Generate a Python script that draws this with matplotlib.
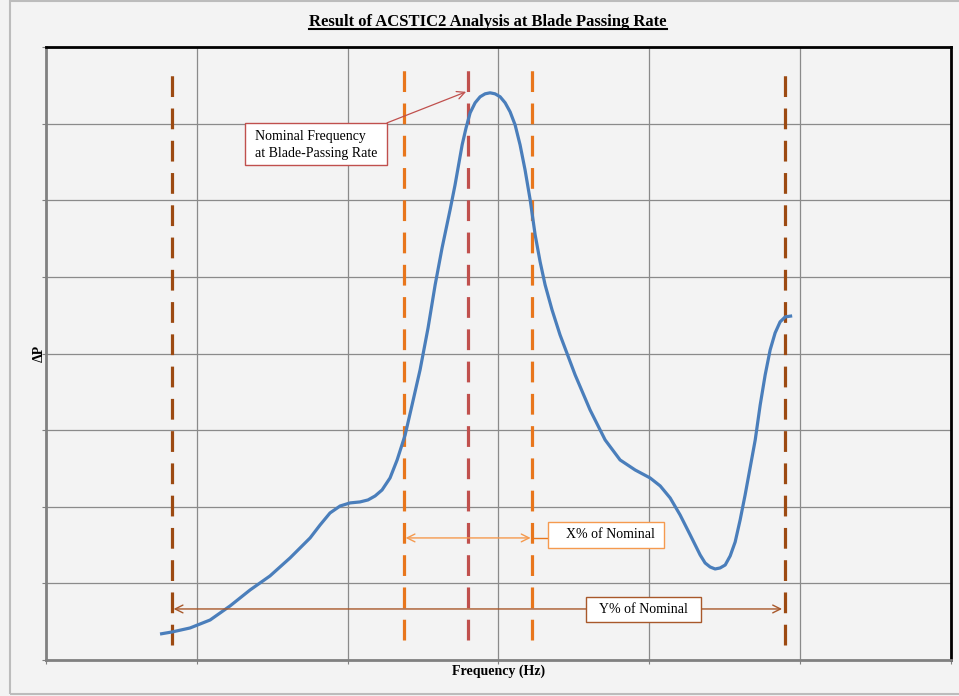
import matplotlib.pyplot as plt
from matplotlib.patches import Rectangle
from matplotlib.lines import Line2D

plt.rcParams['font.family'] = ['Liberation Serif', 'DejaVu Serif']

# measured curve (grid units: 6 columns x 8 rows)
freq = [0.756, 0.836, 0.955, 1.088, 1.220, 1.353, 1.485, 1.618, 1.751, 1.817,
        1.883, 1.950, 2.016, 2.082, 2.135, 2.182, 2.228, 2.281, 2.328, 2.381,
        2.427, 2.480, 2.533, 2.580, 2.626, 2.679, 2.712, 2.759, 2.785, 2.812,
        2.845, 2.878, 2.911, 2.944, 2.977, 3.011, 3.044, 3.077, 3.110, 3.143,
        3.176, 3.210, 3.243, 3.276, 3.309, 3.355, 3.408, 3.508, 3.607, 3.707,
        3.806, 3.906, 4.005, 4.072, 4.138, 4.204, 4.271, 4.337, 4.370, 4.403,
        4.436, 4.469, 4.503, 4.536, 4.569, 4.602, 4.635, 4.668, 4.702, 4.735,
        4.768, 4.801, 4.834, 4.867, 4.901, 4.947]
dp = [0.339, 0.366, 0.418, 0.522, 0.705, 0.914, 1.097, 1.332, 1.593, 1.762,
      1.919, 2.010, 2.050, 2.063, 2.089, 2.141, 2.219, 2.376, 2.611, 2.937,
      3.329, 3.786, 4.334, 4.896, 5.379, 5.875, 6.201, 6.723, 6.945, 7.141,
      7.272, 7.350, 7.389, 7.402, 7.389, 7.350, 7.272, 7.154, 6.984, 6.723,
      6.397, 6.005, 5.548, 5.196, 4.896, 4.569, 4.243, 3.721, 3.264, 2.872,
      2.611, 2.480, 2.376, 2.272, 2.115, 1.893, 1.632, 1.371, 1.266, 1.214,
      1.188, 1.201, 1.240, 1.358, 1.540, 1.828, 2.154, 2.507, 2.872, 3.329,
      3.721, 4.047, 4.269, 4.413, 4.478, 4.491]

nominal = 2.798
x_band = [2.374, 3.223]
y_band = [0.836, 4.900]

brown = '#9c4a12'
orange = '#e8761c'
light_orange = '#f59a4f'
red = '#c0504d'
rust = '#a8582a'

fig = plt.figure(figsize=(9.59, 6.96), dpi=100, facecolor='#f3f3f3')
fig.patches.append(Rectangle((10 / 959, 2 / 696), 1.0, 693 / 696, transform=fig.transFigure,
                             fill=False, edgecolor='#bcbcbc', linewidth=1.5))
ax = fig.add_axes([46 / 959, 36 / 696, 905 / 959, 613 / 696])
ax.set_facecolor('#f3f3f3')
ax.set_xlim(0, 6)
ax.set_ylim(0, 8)
ax.set_xticks(range(7))
ax.set_yticks(range(9))
ax.set_xticklabels([])
ax.set_yticklabels([])
ax.tick_params(length=3, color='#808080', direction='out')
ax.grid(True, color='#8a8a8a', linewidth=0.9)
ax.set_axisbelow(True)
for s in ['left', 'bottom']:
    ax.spines[s].set_color('#808080')
    ax.spines[s].set_linewidth(2)
for s in ['top', 'right']:
    ax.spines[s].set_color('black')
    ax.spines[s].set_linewidth(2)

dash = dict(linewidth=2.3, dashes=(6.5, 3.6), dash_capstyle='butt')
ax.plot([y_band[0]] * 2, [0.196, 7.73], color=brown, **dash)
ax.plot([y_band[1]] * 2, [0.196, 7.68], color=brown, **dash)
ax.plot([x_band[0]] * 2, [0.26, 7.73], color=orange, **dash)
ax.plot([x_band[1]] * 2, [0.26, 7.73], color=orange, **dash)
ax.plot([nominal] * 2, [0.26, 7.74], color=red, **dash)

ax.plot(freq, dp, color='#4a7ebb', linewidth=2.3, solid_capstyle='butt', solid_joinstyle='round')

# nominal frequency callout
ax.annotate('', xy=(2.785, 7.415), xytext=(2.261, 7.010),
            arrowprops=dict(arrowstyle='->', color=red, lw=0.9, mutation_scale=14,
                            shrinkA=0, shrinkB=0))
ax.add_patch(Rectangle((1.320, 6.462), 0.941, 0.548, facecolor='white', edgecolor=red,
                       linewidth=1, zorder=5))
ax.text(1.386, 6.72, 'Nominal Frequency\nat Blade-Passing Rate', fontsize=10, ha='left',
        va='center', linespacing=1.4, zorder=6)

# X% band
ax.annotate('', xy=(x_band[0] + 0.01, 1.593), xytext=(x_band[1] - 0.01, 1.593),
            arrowprops=dict(arrowstyle='<->', color=light_orange, lw=1.0, mutation_scale=14,
                            shrinkA=0, shrinkB=0))
ax.plot([x_band[1], 3.329], [1.593, 1.593], color=orange, linewidth=1)
ax.add_patch(Rectangle((3.329, 1.462), 0.769, 0.340, facecolor='white', edgecolor=light_orange,
                       linewidth=1, zorder=5))
ax.text(3.745, 1.632, 'X% of Nominal', fontsize=10, ha='center', va='center', zorder=6)

# Y% band
ax.annotate('', xy=(y_band[0] + 0.01, 0.666), xytext=(y_band[1] - 0.02, 0.666),
            arrowprops=dict(arrowstyle='<->', color=rust, lw=1.0, mutation_scale=14,
                            shrinkA=0, shrinkB=0))
ax.add_patch(Rectangle((3.581, 0.496), 0.763, 0.326, facecolor='white', edgecolor=rust,
                       linewidth=1, zorder=5))
ax.text(3.962, 0.660, 'Y% of Nominal', fontsize=10, ha='center', va='center', zorder=6)

ax.set_xlabel('Frequency (Hz)', fontsize=10, fontweight='bold', va='center')
ax.set_ylabel('ΔP', fontsize=10, fontweight='bold', va='center')
ax.xaxis.set_label_coords(0.5, -0.018)
ax.yaxis.set_label_coords(-0.007, 0.5)

title = fig.text(488 / 959, 1 - 22 / 696, 'Result of ACSTIC2 Analysis at Blade Passing Rate',
                 fontsize=12, fontweight='bold', ha='center', va='center')
fig.canvas.draw()
bb = title.get_window_extent().transformed(fig.transFigure.inverted())
fig.add_artist(Line2D([bb.x0, bb.x1], [bb.y0 + 0.002, bb.y0 + 0.002], transform=fig.transFigure,
                      color='black', linewidth=1.5))

fig.savefig('out.png', dpi=100, facecolor=fig.get_facecolor())
